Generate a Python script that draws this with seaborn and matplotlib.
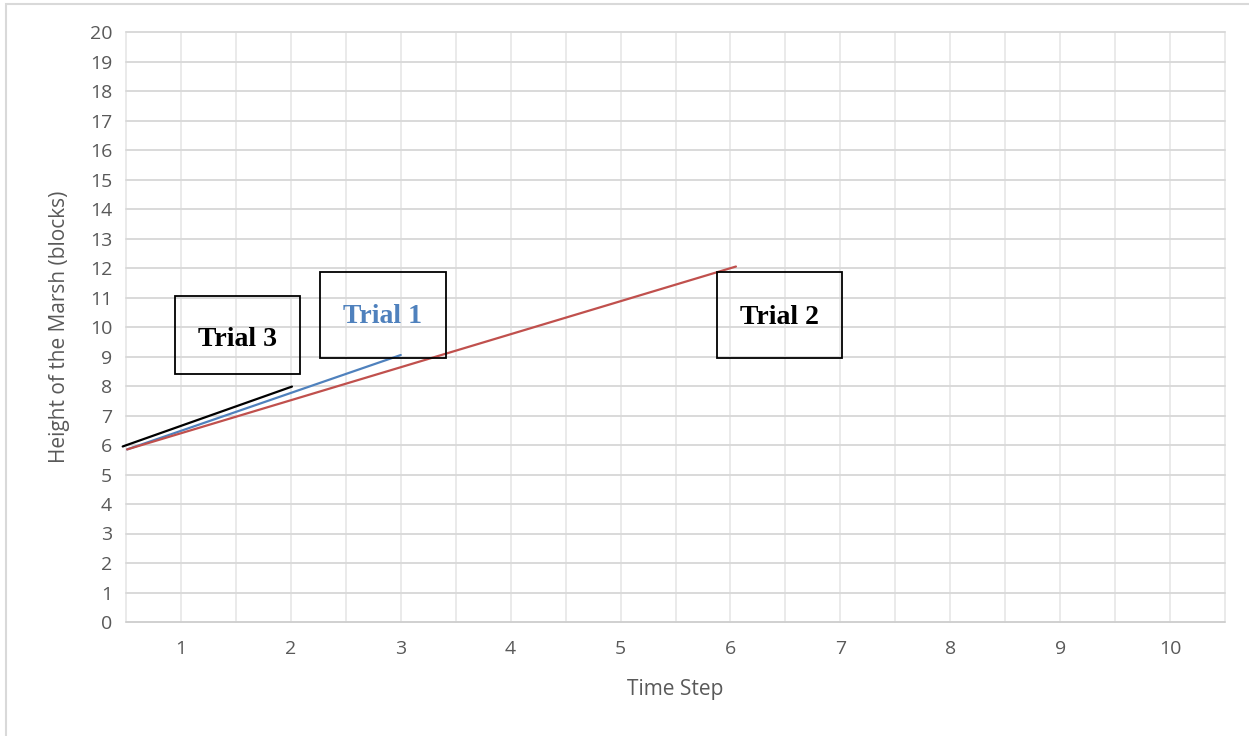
import matplotlib
matplotlib.use("Agg")
import matplotlib.pyplot as plt
import seaborn as sns
import pandas as pd
from matplotlib.patches import Rectangle

# Data
trial1_time = [0.51, 3.0]
trial1_height = [5.85, 9.05]
trial2_time = [0.51, 6.05]
trial2_height = [5.85, 12.05]
trial3_time = [0.47, 2.01]
trial3_height = [5.95, 7.98]

x_ticks = [1, 2, 3, 4, 5, 6, 7, 8, 9, 10]
y_ticks = list(range(0, 21))

trial_colors = {"Trial 1": "#4F81BD", "Trial 2": "#C0504D", "Trial 3": "#000000"}

# Build a long table for seaborn
df = pd.concat([
    pd.DataFrame({"time": trial1_time, "height": trial1_height, "trial": "Trial 1"}),
    pd.DataFrame({"time": trial2_time, "height": trial2_height, "trial": "Trial 2"}),
    pd.DataFrame({"time": trial3_time, "height": trial3_height, "trial": "Trial 3"}),
])

sns.set_theme(style="white")
plt.rcParams["font.family"] = ["Open Sans", "DejaVu Sans"]

fig = plt.figure(figsize=(12.49, 7.36), dpi=100)
ax = fig.add_axes([126 / 1249, 1 - 622 / 736, (1225 - 126) / 1249, (622 - 32) / 736])

# Outer chart border (only left/top visible in the crop)
fig.patches.append(Rectangle((6 / 1249, -0.1), 1.2, 1 - 4 / 736 + 0.1,
                             transform=fig.transFigure, fill=False,
                             edgecolor="#d9d9d9", linewidth=1.5, zorder=0))

# Gridlines: every 0.5 on x, every 1 on y
for gx in [0.5 + 0.5 * i for i in range(21)]:
    ax.axvline(gx, color="#eaeaea", linewidth=1.4, zorder=0)
for gy in y_ticks:
    ax.axhline(gy, color="#d9d9d9" if gy else "#d0d0d0", linewidth=1.4, zorder=0)

sns.lineplot(data=df, x="time", y="height", hue="trial", palette=trial_colors,
             linewidth=1.6, legend=False, ax=ax, sort=False)
for line in ax.lines:
    line.set_clip_on(False)

ax.set_xlim(0.5, 10.5)
ax.set_ylim(0, 20)
ax.set_xticks(x_ticks)
ax.set_yticks(y_ticks)
ax.tick_params(axis="both", length=0, labelsize=14, colors="#595959")
ax.tick_params(axis="x", pad=13)
ax.tick_params(axis="y", pad=10)
for s in ax.spines.values():
    s.set_visible(False)

ax.set_xlabel("Time Step", fontsize=15, color="#595959", labelpad=15)
ax.set_ylabel("Height of the Marsh (blocks)", fontsize=15, color="#595959", labelpad=14)

# Text boxes
boxes = [
    ("Trial 3", 0.945, 8.41, 2.082, 11.05, 1.518, 9.56, "#000000"),
    ("Trial 1", 2.264, 8.95, 3.409, 11.86, 2.836, 10.37, "#4F81BD"),
    ("Trial 2", 5.882, 8.95, 7.018, 11.86, 6.445, 10.31, "#000000"),
]
for label, x0, y0, x1, y1, tx, ty, col in boxes:
    ax.add_patch(Rectangle((x0, y0), x1 - x0, y1 - y0, fill=False,
                           edgecolor="black", linewidth=1.3, zorder=5))
    ax.text(tx, ty, label, ha="center", va="center", fontsize=20,
            fontweight="bold", color=col, family=["Liberation Serif", "DejaVu Serif"],
            zorder=6)

fig.savefig("out.png", dpi=100)
